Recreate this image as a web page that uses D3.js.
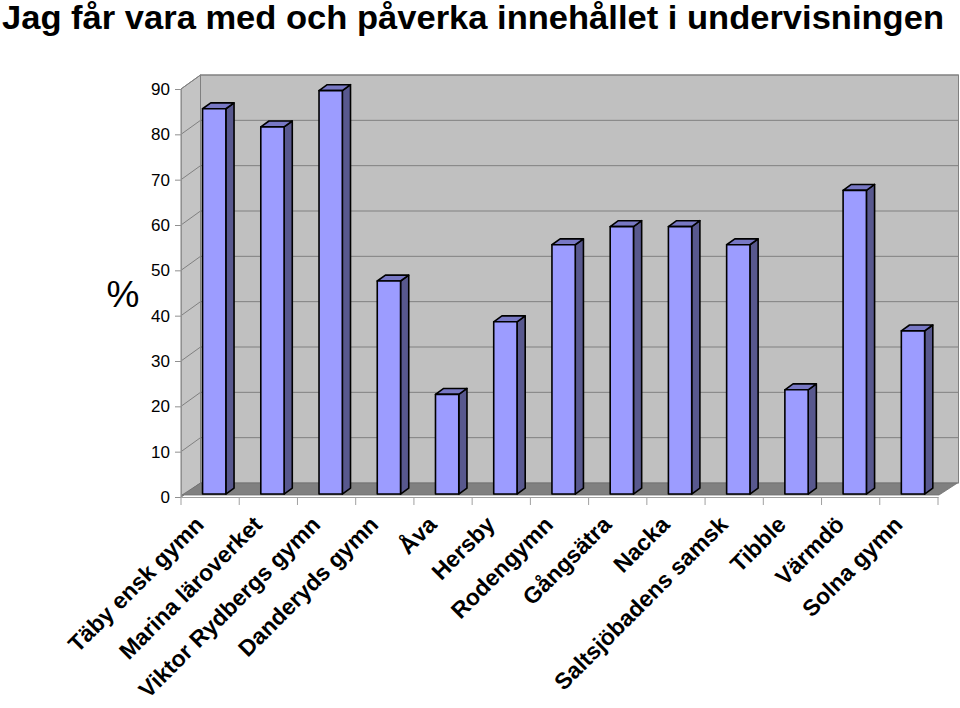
<!DOCTYPE html>
<html>
<head>
<meta charset="utf-8">
<script src="https://cdn.jsdelivr.net/npm/d3@7"></script>
<style>
  html, body { margin: 0; padding: 0; background: #ffffff; }
  svg { display: block; }
  text { font-family: "Liberation Sans", Arial, sans-serif; }
</style>
</head>
<body>
<svg id="chart" width="960" height="708"></svg>
<script>
const title = "Jag får vara med och påverka innehållet i undervisningen";
const categories = ["Täby ensk gymn", "Marina läroverket", "Viktor Rydbergs gymn", "Danderyds gymn", "Åva", "Hersby", "Rodengymn", "Gångsätra", "Nacka", "Saltsjöbadens samsk", "Tibble", "Värmdö", "Solna gymn"];
const values = [85, 81, 89, 47, 22, 38, 55, 59, 59, 55, 23, 67, 36];
const yTicks = [0, 10, 20, 30, 40, 50, 60, 70, 80, 90];
const yLabel = "%";

const svg = d3.select("#chart");

// geometry
const left = 181, right = 938, y0 = 497, yTop = 89;
const DX = 19.5, DY = 14;          // depth of the plot box
const f0 = 0.21, f1 = 0.63;         // bar front/back depth fractions

const x = d3.scaleBand().domain(categories).range([left, right]).paddingInner(0).paddingOuter(0);
const y = d3.scaleLinear().domain([0, 90]).range([y0, yTop]);
const step = x.step();
const bw = step * 0.4;

// title
svg.append("text").attr("x", 2).attr("y", 29)
  .attr("font-size", 33).attr("font-weight", "bold").attr("fill", "#000")
  .attr("textLength", 942).attr("lengthAdjust", "spacingAndGlyphs")
  .text(title);

// back wall
svg.append("rect").attr("x", left + DX).attr("y", yTop - DY)
  .attr("width", (right + DX) - (left + DX) + 1).attr("height", y0 - yTop)
  .attr("fill", "#c0c0c0").attr("stroke", "#808080").attr("stroke-width", 1);

// left wall
svg.append("polygon")
  .attr("points", [[left, yTop], [left + DX, yTop - DY], [left + DX, y0 - DY], [left, y0]].map(p => p.join(",")).join(" "))
  .attr("fill", "#c4c4c4").attr("stroke", "#808080").attr("stroke-width", 1);

// gridlines on back wall and left wall
yTicks.forEach(t => {
  const yy = y(t);
  if (t > 0) {
    svg.append("line").attr("x1", left + DX).attr("x2", right + DX + 1)
      .attr("y1", yy - DY).attr("y2", yy - DY).attr("stroke", "#808080").attr("stroke-width", 1);
  }
  svg.append("line").attr("x1", left).attr("y1", yy).attr("x2", left + DX).attr("y2", yy - DY)
    .attr("stroke", "#808080").attr("stroke-width", 1);
});

// floor
svg.append("polygon")
  .attr("points", [[left + 1, y0 - 2], [left + DX, y0 - DY], [right + DX, y0 - DY], [right + 1, y0 - 2]].map(p => p.join(",")).join(" "))
  .attr("fill", "#808080").attr("stroke", "#707070").attr("stroke-width", 0.8);

// y axis
const yAxis = d3.axisLeft(y).tickValues(yTicks).tickSize(6).tickPadding(5).tickSizeOuter(0);
const gy = svg.append("g").attr("transform", `translate(${left},0)`).call(yAxis);
gy.select(".domain").attr("stroke", "#909090");
gy.selectAll(".tick line").attr("stroke", "#909090");
gy.selectAll(".tick text").attr("font-size", 17).attr("fill", "#000")
  .attr("font-family", "Liberation Sans, Arial, sans-serif");

// x axis
const xAxis = d3.axisBottom(x).tickSize(0).tickFormat("").tickSizeOuter(0);
const gx = svg.append("g").attr("transform", `translate(0,${y0})`).call(xAxis);
gx.select(".domain").attr("stroke", "#a0a0a0");
gx.selectAll(".tick").remove();
const bounds = categories.map(c => x(c)).concat([right]);
gx.selectAll("line.sep").data(bounds).enter().append("line").attr("class", "sep")
  .attr("x1", d => d).attr("x2", d => d).attr("y1", 0).attr("y2", 8)
  .attr("stroke", "#a0a0a0").attr("stroke-width", 1);

// bars
const fdx = f0 * DX, fdy = f0 * DY;
const bdx = (f1 - f0) * DX, bdy = (f1 - f0) * DY;
const bars = svg.append("g");
categories.forEach((c, i) => {
  const v = values[i];
  const x0 = x(c) + (step - bw) / 2 + fdx;
  const yt = y(v) - fdy, yb = y(0) - fdy;
  const g = bars.append("g").attr("stroke", "#000").attr("stroke-width", 1.6).attr("stroke-linejoin", "round");
  g.append("polygon")
    .attr("points", [[x0 + bw, yt], [x0 + bw + bdx, yt - bdy], [x0 + bw + bdx, yb - bdy], [x0 + bw, yb]].map(p => p.join(",")).join(" "))
    .attr("fill", "#58588e");
  g.append("polygon")
    .attr("points", [[x0, yt], [x0 + bw, yt], [x0 + bw + bdx, yt - bdy], [x0 + bdx, yt - bdy]].map(p => p.join(",")).join(" "))
    .attr("fill", "#7878c4");
  g.append("rect").attr("x", x0).attr("y", yt).attr("width", bw).attr("height", yb - yt)
    .attr("fill", "#9c9cff");
});

// category labels
svg.append("g").selectAll("text").data(categories).enter().append("text")
  .attr("transform", d => `translate(${x(d) + step / 2 - 5},${526}) rotate(-45)`)
  .attr("text-anchor", "end")
  .attr("font-size", 23).attr("font-weight", "bold").attr("fill", "#000")
  .text(d => d);

// y label
svg.append("text").attr("x", 123).attr("y", 307).attr("text-anchor", "middle")
  .attr("font-size", 37).attr("fill", "#000").text(yLabel);
</script>
</body>
</html>
